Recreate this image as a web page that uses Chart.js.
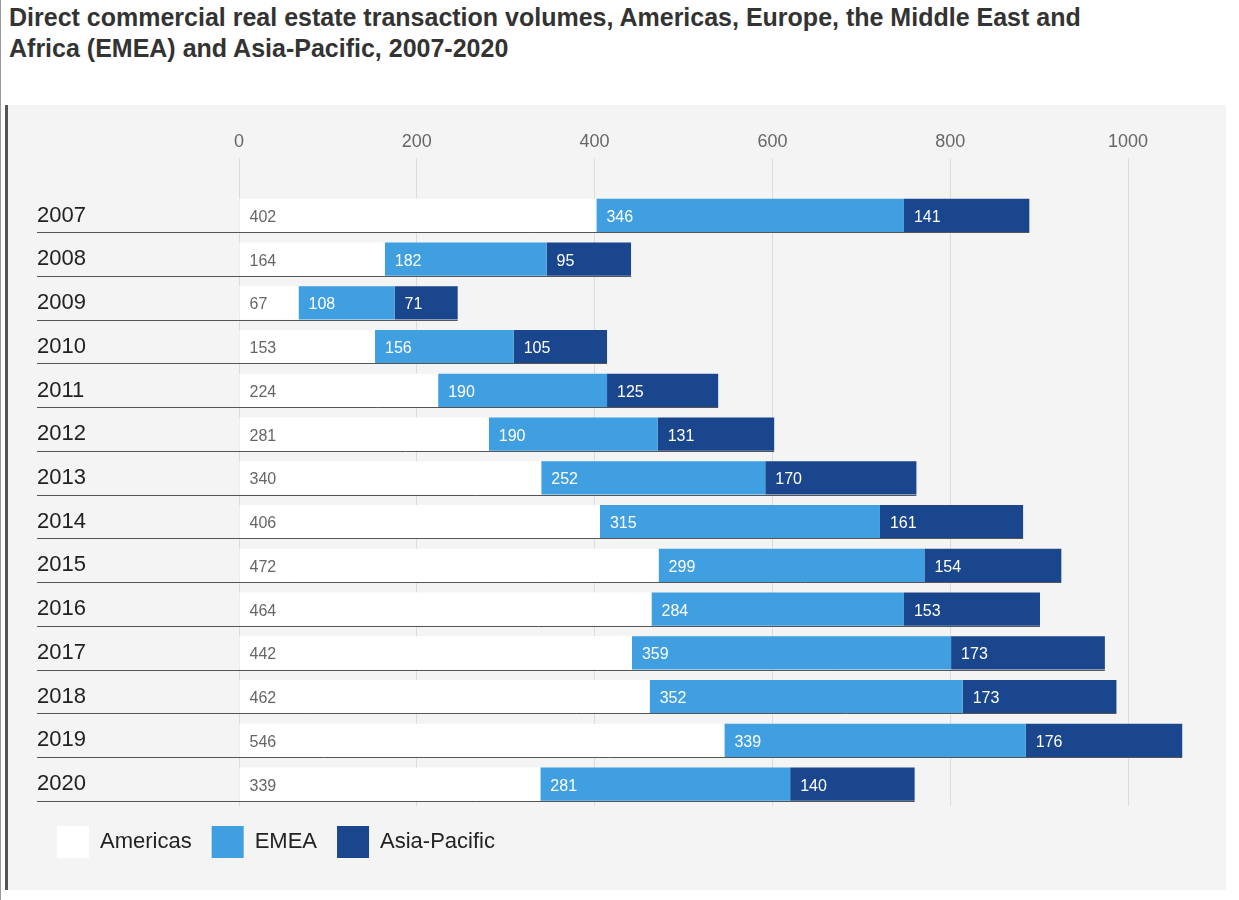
<!DOCTYPE html>
<html>
<head>
<meta charset="utf-8">
<script src="https://cdn.jsdelivr.net/npm/chart.js@4"></script>
<style>
body { margin: 0; background: #fff; font-family: "Liberation Sans", Arial, sans-serif; }
#page { position: relative; width: 1239px; height: 900px; border-left: 1px solid #999; box-sizing: border-box; }
#title { position: absolute; left: 8px; top: 2px; width: 1225px; font-size: 25px; font-weight: bold; color: #333; line-height: 31px; }
#panel { position: absolute; left: 4px; top: 105px; width: 1218px; height: 785px; background: #f4f4f4; border-left: 3px solid #555; }
#wrap { position: absolute; left: 11px; top: 0; width: 1205px; height: 785px; }
</style>
</head>
<body>
<div id="page">
  <div id="title">Direct commercial real estate transaction volumes, Americas, Europe, the Middle East and<br>Africa (EMEA) and Asia-Pacific, 2007-2020</div>
  <div id="panel"><div id="wrap"><canvas id="chart"></canvas></div></div>
</div>
<script>
var years = ['2007','2008','2009','2010','2011','2012','2013','2014','2015','2016','2017','2018','2019','2020'];
var americas = [402,164,67,153,224,281,340,406,472,464,442,462,546,339];
var emea = [346,182,108,156,190,190,252,315,299,284,359,352,339,281];
var asiaPacific = [141,95,71,105,125,131,170,161,154,153,173,173,176,140];

const rowLines = {
    id: 'rowLines',
    afterDatasetsDraw: function(chart) {
        var ctx = chart.ctx;
        var last = chart.getDatasetMeta(2);
        ctx.save();
        ctx.strokeStyle = '#555';
        ctx.lineWidth = 1;
        last.data.forEach(function(bar) {
            var y = Math.round(bar.y + bar.height / 2) + 0.5;
            ctx.beginPath();
            ctx.moveTo(18, y);
            ctx.lineTo(bar.x, y);
            ctx.stroke();
        });
        // values inside each segment
        ctx.font = '16px "Liberation Sans", Arial, sans-serif';
        ctx.textBaseline = 'middle';
        ctx.textAlign = 'left';
        chart.data.datasets.forEach(function(ds, i) {
            chart.getDatasetMeta(i).data.forEach(function(bar, j) {
                ctx.fillStyle = i == 0 ? '#666' : '#fff';
                ctx.fillText(ds.data[j], bar.base + 10, bar.y + 2);
            });
        });
        ctx.restore();
    }
};

new Chart(document.getElementById('chart'), {
    type: 'bar',
    data: {
        labels: years,
        datasets: [
            { label: 'Americas', data: americas, backgroundColor: '#ffffff', borderWidth: 0, clip: false },
            { label: 'EMEA', data: emea, backgroundColor: '#3f9fe0', borderWidth: 0, clip: false },
            { label: 'Asia-Pacific', data: asiaPacific, backgroundColor: '#19468d', borderWidth: 0, clip: false }
        ]
    },
    options: {
        indexAxis: 'y',
        responsive: true,
        maintainAspectRatio: false,
        animation: false,
        layout: { padding: { left: 18, right: 96, top: 20, bottom: 22 } },
        datasets: { bar: { categoryPercentage: 0.76, barPercentage: 1 } },
        scales: {
            x: {
                position: 'top', stacked: true, min: 0, max: 1000,
                ticks: { stepSize: 200, color: '#666', font: { size: 18, family: '"Liberation Sans", Arial' }, padding: 6,
                         callback: function(v) { return String(v); } },
                grid: { color: '#dcdcdc', tickLength: 35 },
                border: { display: false }
            },
            y: {
                stacked: true,
                afterFit: function(axis) { axis.width = 202; },
                ticks: { crossAlign: 'far', color: '#222', font: { size: 22, family: '"Liberation Sans", Arial' } },
                grid: { display: false },
                border: { display: false }
            }
        },
        plugins: {
            legend: {
                position: 'bottom', align: 'start',
                labels: { boxWidth: 32, boxHeight: 32, padding: 20, color: '#222', font: { size: 22, family: '"Liberation Sans", Arial' } }
            },
            tooltip: { enabled: false }
        }
    },
    plugins: [rowLines]
});
</script>
</body>
</html>
